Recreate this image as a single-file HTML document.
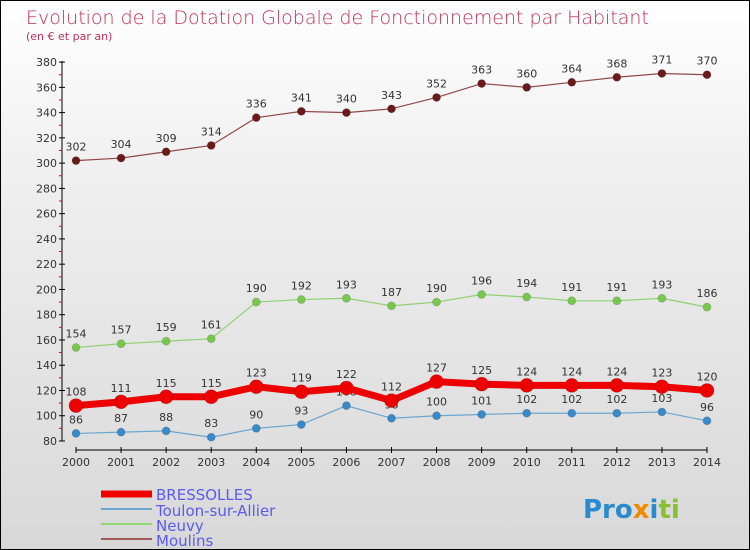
<!DOCTYPE html>
<html><head><meta charset="utf-8"><style>
body{margin:0}
#c{width:750px;height:550px;position:relative;overflow:hidden;box-sizing:border-box;border:1px solid #000;background:linear-gradient(#fff,#f0f0f0 30%,#d8d8d8);font-family:"DejaVu Sans","Liberation Sans",sans-serif}
</style></head><body>
<div id="c">
<svg width="750" height="550" id="s">
<text x="25" y="23" font-size="19" fill="#c0305a" font-weight="200">Evolution de la Dotation Globale de Fonctionnement par Habitant</text>
<text x="25" y="39" font-size="11" fill="#c0305a">(en € et par an)</text>
<g id="ax"></g><g id="ser"></g>
<g>
<line x1="100" y1="493" x2="151" y2="493" stroke="#e00" stroke-width="7"/>
<text x="155" y="499" font-size="15" fill="#5a5af0">BRESSOLLES</text>
<line x1="100" y1="508" x2="151" y2="508" stroke="#6aa6d0" stroke-width="2"/>
<text x="155" y="515" font-size="15" fill="#5a5af0">Toulon-sur-Allier</text>
<line x1="100" y1="523" x2="151" y2="523" stroke="#8fd870" stroke-width="2"/>
<text x="155" y="530" font-size="15" fill="#5a5af0">Neuvy</text>
<line x1="100" y1="538" x2="151" y2="538" stroke="#a05a5a" stroke-width="2"/>
<text x="155" y="545" font-size="15" fill="#5a5af0">Moulins</text>
</g>
<text x="582" y="517" font-size="26" font-weight="bold"><tspan fill="#2a8ad0">Pro</tspan><tspan fill="#f08a00">x</tspan><tspan fill="#2a8ad0">i</tspan><tspan fill="#8ac030">ti</tspan></text>
</svg></div>
<script>
const years=[2000,2001,2002,2003,2004,2005,2006,2007,2008,2009,2010,2011,2012,2013,2014];
const bressolles=[108,111,115,115,123,119,122,112,127,125,124,124,124,123,120];
const toulon=[86,87,88,83,90,93,108,98,100,101,102,102,102,103,96];
const neuvy=[154,157,159,161,190,192,193,187,190,196,194,191,191,193,186];
const moulins=[302,304,309,314,336,341,340,343,352,363,360,364,368,371,370];
const yTicks=[80,100,120,140,160,180,200,220,240,260,280,300,320,340,360,380];
const NS="http://www.w3.org/2000/svg";
const X=i=>75+i*(706-75)/14, Y=v=>440-(v-80)*1.263;
function mk(t,a,p){const e=document.createElementNS(NS,t);for(const k in a)e.setAttribute(k,a[k]);p.appendChild(e);return e;}
const ax=document.getElementById('ax'),ser=document.getElementById('ser');
let l=mk('line',{x1:61,y1:60,x2:61,y2:440,stroke:'#000'},ax);


l=mk('line',{x1:75,y1:449,x2:706,y2:449,stroke:'#000'},ax);


yTicks.forEach((v,k)=>{const y=Y(v);
 mk('line',{x1:58,y1:y,x2:64,y2:y,stroke:'#000'},ax);
 if(k>0) mk('line',{x1:58,y1:y+12.6,x2:61,y2:y+12.6,stroke:'#e00'},ax);
 const t=mk('text',{x:56,y:y+4,'font-size':11,fill:'#333','text-anchor':'end'},ax);t.textContent=v;
 
 });
years.forEach((yr,i)=>{mk('line',{x1:X(i),y1:446,x2:X(i),y2:452,stroke:'#000'},ax);
 const t=mk('text',{x:X(i),y:465,'font-size':11,fill:'#333','text-anchor':'middle'},ax);t.textContent=yr;
 
 });
function series(d,name,col,w,r,dot){const g=mk('g',{},ser);
 
 
 const p=mk('polyline',{points:d.map((v,i)=>X(i)+','+Y(v)).join(' '),fill:'none',stroke:col,'stroke-width':w},g);
 
 
 d.forEach((v,i)=>{const c=mk('circle',{cx:X(i),cy:Y(v),r:r,fill:dot,stroke:'#0002'},g);
  
  
  const t=mk('text',{x:X(i),y:Y(v)-10,'font-size':11,fill:'#333','text-anchor':'middle'},g);t.textContent=v;
  
  });}
series(moulins,'moulins','#904848',1.2,4,'#6a1a1a');
series(neuvy,'neuvy','#90d070',1.2,4,'#78c850');
series(toulon,'toulon','#6aa6d0',1.2,4,'#3a8ac8');
series(bressolles,'bressolles','#e00',7,7,'#e00');
</script></body></html>
